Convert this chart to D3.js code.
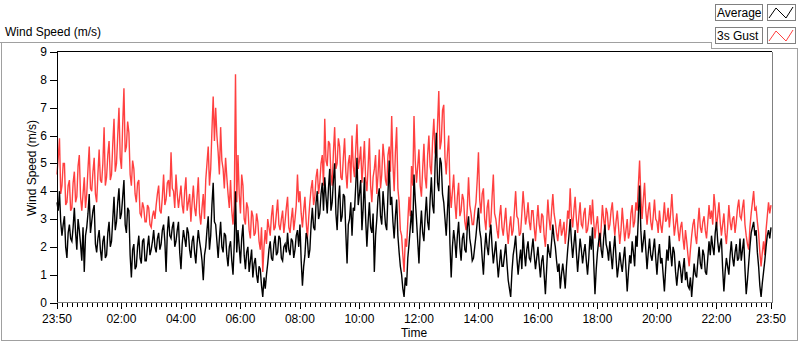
<!DOCTYPE html>
<html>
<head>
<meta charset="utf-8">
<style>
  body { margin: 0; background: #fff; }
  svg { display: block; }
  text { font-family: "Liberation Sans", Arial, sans-serif; fill: #000; }
</style>
</head>
<body>
<svg width="800" height="342"></svg>
<script src="https://d3js.org/d3.v7.min.js"></script>
<script>

// one sample every 2.5 minutes, starting 23:50 (one row = one hour)
var stepMin = 2.5;

var gust = [
  4.6, 5.2, 5.9, 3.9, 4.2, 5.0, 5.0, 3.5, 3.6, 4.2, 4.4, 3.3, 3.4, 4.3, 4.7, 3.6, 3.8, 4.9, 5.3, 3.8, 3.3, 3.9, 4.5, 3.4,
  3.9, 4.8, 5.6, 4.1, 4.0, 4.7, 5.2, 3.9, 3.6, 4.6, 5.5, 4.4, 4.3, 5.0, 6.3, 4.2, 4.5, 5.3, 5.8, 4.4, 4.6, 5.7, 6.6, 4.7,
  5.0, 6.0, 7.0, 5.2, 4.8, 6.4, 7.7, 5.4, 5.6, 6.5, 6.1, 4.6, 4.2, 5.1, 4.8, 3.9, 3.6, 4.3, 4.4, 3.2, 3.1, 3.6, 3.4, 2.9,
  2.9, 3.5, 3.4, 2.8, 2.7, 3.1, 3.3, 3.0, 3.5, 3.9, 4.2, 3.3, 3.2, 3.8, 4.6, 3.5, 3.7, 4.3, 4.4, 3.8, 5.4, 4.1, 4.0, 3.4,
  4.6, 3.9, 3.4, 3.8, 4.2, 3.5, 3.2, 4.0, 4.5, 3.3, 3.6, 3.9, 2.9, 3.6, 4.2, 3.4, 3.1, 3.8, 4.5, 3.2, 2.8, 3.4, 3.9, 3.0,
  4.4, 5.0, 5.6, 4.2, 4.8, 6.2, 7.4, 5.8, 7.0, 6.0, 5.4, 4.6, 6.3, 5.1, 4.8, 4.1, 5.2, 4.5, 3.9, 3.4, 4.4, 3.3, 2.8, 3.5,
  8.2, 3.6, 5.3, 3.9, 3.2, 4.6, 4.2, 3.0, 2.8, 3.6, 3.4, 2.6, 2.3, 3.3, 3.1, 2.4, 2.5, 3.2, 2.9, 2.2, 1.9, 2.7, 1.1, 2.0,
  2.6, 2.1, 3.0, 2.7, 2.4, 3.1, 3.5, 2.6, 2.7, 3.2, 3.7, 2.8, 2.6, 3.0, 3.3, 2.5, 2.9, 3.4, 3.8, 2.7, 2.5, 3.0, 3.4, 2.6,
  3.0, 3.5, 4.6, 3.6, 4.0, 3.2, 2.7, 3.3, 3.8, 2.9, 2.3, 3.0, 3.6, 4.1, 4.4, 3.5, 3.8, 4.5, 4.8, 3.9, 4.3, 5.0, 5.3, 4.2,
  6.6, 5.1, 4.9, 5.8, 5.7, 4.6, 4.2, 5.4, 6.3, 4.8, 5.0, 5.9, 5.6, 4.5, 4.4, 5.2, 5.9, 4.7, 4.1, 5.0, 5.3, 4.3, 6.0, 4.9,
  4.5, 5.5, 6.4, 4.8, 5.1, 5.6, 4.3, 5.0, 5.8, 4.4, 4.0, 4.9, 5.9, 4.2, 3.6, 4.5, 4.8, 5.3, 3.9, 4.6, 5.5, 4.1, 4.6, 5.7,
  5.2, 4.4, 4.2, 5.3, 5.6, 4.7, 6.7, 5.0, 4.0, 5.4, 6.3, 4.1, 3.6, 2.6, 2.4, 1.7, 1.1, 2.3, 2.0, 2.9, 3.8, 3.1, 4.9, 4.2,
  6.7, 5.1, 4.3, 4.9, 5.5, 4.2, 3.8, 4.8, 5.7, 4.5, 4.1, 5.3, 6.0, 4.9, 4.6, 5.8, 6.6, 5.4, 5.2, 6.4, 7.6, 5.5, 5.8, 6.9,
  7.1, 5.2, 4.6, 5.4, 6.0, 4.1, 3.4, 4.0, 4.6, 3.6, 3.0, 3.8, 4.3, 3.1, 3.3, 3.9, 3.7, 2.9, 2.6, 3.4, 4.5, 3.5, 3.2, 2.8,
  2.8, 3.3, 3.6, 4.4, 5.4, 3.7, 3.2, 3.9, 4.1, 3.0, 2.6, 3.4, 3.7, 2.7, 2.9, 3.8, 4.6, 3.2, 3.0, 2.6, 2.3, 3.1, 3.5, 2.7,
  2.4, 2.9, 3.4, 2.6, 2.1, 2.7, 3.1, 2.4, 2.6, 3.3, 4.0, 3.1, 3.0, 2.4, 2.5, 3.2, 4.0, 3.4, 2.8, 3.1, 3.6, 2.9, 2.6, 3.3,
  3.3, 2.7, 2.2, 2.9, 3.5, 2.8, 2.5, 3.2, 3.1, 2.4, 2.0, 2.8, 3.7, 3.0, 2.6, 3.3, 3.9, 3.2, 2.9, 2.5, 2.2, 2.7, 3.0, 2.4,
  2.6, 2.9, 2.1, 2.6, 3.3, 3.0, 4.1, 3.1, 2.7, 3.3, 3.8, 3.0, 2.5, 3.1, 3.6, 2.8, 2.7, 3.2, 3.4, 2.5, 2.6, 3.0, 3.5, 2.8,
  3.7, 2.9, 2.3, 2.8, 3.1, 2.5, 2.0, 2.7, 3.5, 3.0, 2.6, 3.4, 3.2, 2.6, 2.8, 3.3, 3.6, 2.9, 2.4, 2.9, 3.3, 2.7, 2.1, 2.6,
  3.4, 2.8, 2.2, 2.6, 3.0, 2.3, 2.5, 3.2, 3.5, 2.7, 2.9, 3.6, 3.3, 4.2, 5.1, 3.8, 3.0, 3.7, 4.3, 3.3, 2.8, 3.3, 3.6, 2.9,
  2.6, 3.1, 3.7, 3.0, 2.9, 2.5, 3.3, 2.8, 2.5, 3.0, 3.6, 2.9, 3.0, 3.4, 2.7, 3.2, 3.9, 3.1, 2.4, 2.8, 3.2, 2.6, 2.2, 2.7,
  2.9, 2.3, 1.9, 2.6, 2.2, 1.7, 1.3, 1.9, 2.4, 2.8, 3.0, 2.4, 2.1, 2.8, 3.4, 2.7, 2.5, 2.9, 3.1, 2.6, 2.3, 2.9, 3.5, 3.0,
  3.3, 2.8, 3.9, 3.4, 2.7, 3.1, 3.6, 2.9, 2.4, 2.8, 3.2, 2.5, 2.1, 2.7, 3.5, 2.9, 2.6, 3.0, 3.1, 2.5, 2.9, 3.4, 3.7, 3.1,
  3.0, 3.4, 3.7, 2.8, 2.4, 2.1, 1.9, 2.7, 3.2, 3.6, 4.0, 3.3, 3.4, 2.9, 2.5, 1.8, 1.3, 1.8, 2.2, 1.7, 2.6, 3.1, 3.6, 3.2,
  3.5
];

var average = [
  3.6, 3.3, 4.0, 2.9, 2.4, 2.8, 3.1, 2.0, 1.6, 2.5, 2.8, 2.3, 2.2, 2.7, 3.4, 2.5, 1.9, 3.0, 2.6, 2.1, 1.5, 2.7, 1.1, 2.4,
  2.7, 3.2, 3.9, 2.5, 2.9, 3.3, 3.5, 2.1, 1.8, 2.3, 2.6, 1.9, 1.5, 2.2, 2.4, 1.6, 1.7, 2.5, 2.9, 2.0, 2.2, 3.0, 3.8, 2.6,
  2.9, 3.6, 4.1, 3.0, 3.2, 3.8, 4.4, 2.8, 2.5, 3.4, 3.3, 1.7, 0.9, 1.9, 2.1, 1.2, 1.3, 2.0, 2.4, 1.6, 1.4, 2.2, 2.3, 1.5,
  1.5, 2.0, 2.4, 1.7, 1.9, 2.2, 2.6, 2.0, 1.8, 2.3, 2.5, 1.9, 2.1, 2.6, 2.8, 2.2, 1.1, 2.5, 3.1, 2.4, 2.3, 2.7, 2.9, 2.0,
  2.2, 2.6, 2.9, 1.8, 1.2, 2.1, 2.6, 2.3, 2.0, 2.7, 2.5, 1.9, 1.6, 2.2, 2.4, 1.8, 1.4, 2.1, 2.6, 2.2, 1.9, 1.5, 0.8, 1.7,
  2.0, 2.6, 3.1, 1.9, 2.4, 3.5, 4.3, 2.9, 2.8, 2.2, 1.6, 2.3, 2.9, 2.0, 1.8, 2.5, 2.4, 1.7, 1.3, 2.0, 2.2, 1.5, 1.0, 2.1,
  4.0, 1.8, 2.6, 2.0, 1.4, 2.3, 2.8, 1.7, 1.2, 1.8, 2.0, 1.1, 1.5, 1.9, 0.9, 1.4, 1.6, 1.0, 0.7, 1.3, 1.2, 0.6, 0.2, 0.9,
  0.5, 1.0, 1.4, 1.9, 2.2, 1.6, 1.5, 2.1, 2.4, 1.7, 1.8, 2.4, 2.3, 1.6, 1.5, 2.0, 2.1, 1.8, 2.5, 1.9, 1.7, 2.3, 2.2, 1.6,
  1.9, 2.4, 2.6, 2.0, 2.8, 1.5, 0.6, 1.3, 1.7, 2.5, 2.3, 1.6, 1.9, 2.8, 3.4, 2.7, 2.6, 3.6, 4.0, 3.0, 3.2, 3.9, 4.3, 3.3,
  4.5, 3.8, 3.2, 4.1, 4.8, 3.3, 3.6, 4.4, 5.0, 3.2, 2.6, 3.7, 4.2, 2.9, 3.1, 3.9, 3.8, 2.5, 1.4, 2.8, 3.0, 3.6, 2.4, 3.4,
  3.3, 4.2, 5.2, 3.5, 3.9, 4.4, 2.6, 3.4, 4.5, 3.0, 2.0, 2.9, 3.6, 2.7, 2.5, 3.2, 1.1, 2.4, 3.0, 3.8, 4.1, 3.1, 2.8, 4.0,
  3.4, 2.8, 2.6, 3.9, 5.1, 3.5, 3.8, 2.9, 2.3, 3.1, 3.7, 2.4, 1.8, 1.3, 1.0, 0.5, 0.2, 0.9, 0.6, 1.6, 2.1, 2.7, 3.3, 2.5,
  4.6, 3.7, 3.0, 2.2, 1.4, 2.6, 3.3, 2.5, 2.2, 3.1, 3.8, 2.9, 2.6, 3.7, 4.5, 3.5, 3.2, 4.9, 6.1, 4.3, 4.0, 5.2, 5.0, 3.9,
  3.6, 3.0, 2.4, 3.3, 4.2, 2.1, 0.9, 2.0, 2.6, 2.2, 1.6, 2.4, 2.9, 2.0, 1.5, 2.3, 2.5, 1.9, 1.8, 2.7, 3.1, 2.3, 2.0, 1.5,
  1.6, 2.0, 2.4, 2.9, 3.4, 2.6, 2.3, 1.6, 1.0, 1.9, 2.5, 2.0, 1.7, 2.4, 2.8, 2.0, 1.4, 1.8, 2.2, 1.5, 0.9, 1.4, 1.9, 1.3,
  1.3, 1.7, 2.1, 1.4, 0.8, 0.5, 0.2, 1.1, 1.7, 2.0, 2.4, 1.6, 1.0, 1.5, 1.9, 1.2, 2.5, 1.8, 1.3, 1.9, 2.2, 1.6, 1.5, 1.9,
  2.3, 1.7, 1.2, 1.6, 2.0, 1.4, 0.9, 1.5, 1.7, 1.0, 0.3, 1.2, 2.1, 1.8, 1.6, 2.2, 2.8, 2.3, 2.0, 1.5, 1.1, 1.4, 0.5, 1.0,
  1.4, 1.0, 0.5, 1.3, 1.9, 2.4, 3.0, 2.2, 1.6, 2.1, 2.6, 1.8, 1.1, 1.7, 2.3, 1.9, 1.4, 1.8, 2.1, 1.5, 1.0, 1.6, 2.4, 1.9,
  2.7, 1.4, 0.3, 1.2, 1.8, 2.2, 2.5, 1.9, 1.6, 2.3, 2.8, 2.1, 1.9, 1.5, 2.2, 1.7, 1.2, 1.9, 2.4, 1.6, 0.9, 1.3, 1.8, 1.4,
  1.1, 1.6, 2.0, 1.2, 0.4, 1.1, 1.7, 1.4, 2.2, 1.8, 1.3, 2.4, 2.0, 3.1, 4.2, 2.6, 1.8, 2.2, 2.6, 1.9, 1.2, 1.8, 2.3, 1.7,
  1.5, 1.9, 2.3, 1.6, 1.0, 1.7, 2.1, 1.4, 1.6, 1.0, 0.4, 1.2, 1.9, 1.5, 2.4, 1.8, 1.3, 2.0, 1.8, 1.1, 0.6, 1.1, 1.5, 1.2,
  0.7, 1.2, 1.6, 0.8, 1.1, 0.6, 0.5, 0.9, 0.2, 0.8, 1.4, 1.0, 0.9, 1.5, 2.0, 1.4, 1.2, 1.9, 1.7, 1.1, 1.0, 1.6, 2.2, 1.7,
  2.4, 2.0, 1.7, 2.5, 2.9, 2.2, 1.8, 2.1, 2.3, 1.2, 0.4, 1.1, 1.6, 1.3, 1.0, 1.7, 2.2, 1.6, 1.3, 1.8, 2.1, 1.5, 1.6, 2.3,
  1.5, 1.9, 2.3, 1.2, 0.3, 0.8, 1.4, 2.0, 2.5, 2.7, 2.9, 2.4, 2.6, 1.8, 1.3, 0.6, 0.2, 0.7, 1.1, 1.5, 2.0, 2.4, 2.6, 2.3,
  2.7
];

var yTicks = [0, 1, 2, 3, 4, 5, 6, 7, 8, 9];
var xTickLabels = ["23:50", "02:00", "04:00", "06:00", "08:00", "10:00", "12:00",
                   "14:00", "16:00", "18:00", "20:00", "22:00", "23:50"];
var legendNames = ["Average", "3s Gust"];
var seriesColors = ["#000000", "#ff4040"];

var svg = d3.select("svg");

// minutes since 23:50
function toMin(label, i) {
  var p = label.split(":"), m = +p[0] * 60 + +p[1] - (23 * 60 + 50);
  if (m < 0 || (i > 0 && m === 0)) m += 1440;
  return m;
}

var x = d3.scaleLinear().domain([0, 1440]).range([57, 771]);
var y = d3.scaleLinear().domain([0, 9]).range([302.5, 52]);

// outer frame
svg.append("path")
    .attr("d", "M0,42.5H711.5V48.5H797.5V340.5H1.5V42.5")
    .attr("fill", "none")
    .attr("stroke", "#a0a0a0")
    .attr("shape-rendering", "crispEdges");

svg.append("text")
    .attr("x", 5).attr("y", 36)
    .style("font-size", "12px")
    .text("Wind Speed (m/s)");

// plot area
svg.append("rect")
    .attr("x", 57).attr("y", 52)
    .attr("width", 715).attr("height", 250)
    .attr("fill", "#fff");

var line = d3.line()
    .x(function(d, i) { return x(i * stepMin); })
    .y(function(d) { return y(d); });

svg.append("g")
    .selectAll("path")
    .data([gust, average])
    .enter().append("path")
    .attr("d", line)
    .attr("fill", "none")
    .attr("stroke", function(d, i) { return i === 0 ? seriesColors[1] : seriesColors[0]; })
    .attr("stroke-width", 1.4)
    .attr("stroke-linejoin", "miter");

// plot border: dark top/left, grey bottom/right
svg.append("path")
    .attr("d", "M57.5,302V51.5H772")
    .attr("fill", "none").attr("stroke", "#000")
    .attr("shape-rendering", "crispEdges");
svg.append("path")
    .attr("d", "M57,302.5H772.5V52")
    .attr("fill", "none").attr("stroke", "#808080")
    .attr("shape-rendering", "crispEdges");

// y axis
var yAxis = svg.append("g");
yAxis.selectAll("line")
    .data(yTicks)
    .enter().append("line")
    .attr("x1", 50).attr("x2", 57)
    .attr("y1", function(d) { return Math.round(y(d)) + 0.5; })
    .attr("y2", function(d) { return Math.round(y(d)) + 0.5; })
    .attr("stroke", "#000")
    .attr("shape-rendering", "crispEdges");
yAxis.selectAll("text")
    .data(yTicks)
    .enter().append("text")
    .attr("x", 47)
    .attr("y", function(d) { return y(d) + 4; })
    .attr("text-anchor", "end")
    .style("font-size", "12px")
    .text(function(d) { return d; });

svg.append("text")
    .attr("transform", "translate(36,168) rotate(-90)")
    .attr("text-anchor", "middle")
    .style("font-size", "12px")
    .text("Wind Speed (m/s)");

// x axis
var majorMins = xTickLabels.map(toMin);
var minorMins = d3.range(0, 1441, 10);
var xAxis = svg.append("g");
xAxis.selectAll("line.minor")
    .data(minorMins)
    .enter().append("line")
    .attr("class", "minor")
    .attr("x1", function(d) { return Math.round(x(d)) + 0.5; })
    .attr("x2", function(d) { return Math.round(x(d)) + 0.5; })
    .attr("y1", 303).attr("y2", 307)
    .attr("stroke", "#000")
    .attr("shape-rendering", "crispEdges");
xAxis.selectAll("line.major")
    .data(majorMins)
    .enter().append("line")
    .attr("class", "major")
    .attr("x1", function(d) { return Math.round(x(d)) + 0.5; })
    .attr("x2", function(d) { return Math.round(x(d)) + 0.5; })
    .attr("y1", 303).attr("y2", 309)
    .attr("stroke", "#000")
    .attr("shape-rendering", "crispEdges");
xAxis.selectAll("text")
    .data(xTickLabels)
    .enter().append("text")
    .attr("x", function(d, i) { return x(majorMins[i]); })
    .attr("y", 323)
    .attr("text-anchor", "middle")
    .style("font-size", "12px")
    .text(function(d) { return d; });

svg.append("text")
    .attr("x", 414).attr("y", 337)
    .attr("text-anchor", "middle")
    .style("font-size", "12px")
    .text("Time");

// legend
var legend = svg.append("g")
    .selectAll("g")
    .data(legendNames)
    .enter().append("g")
    .attr("transform", function(d, i) { return "translate(0," + (i * 23) + ")"; });
legend.append("rect")
    .attr("x", 715.5).attr("y", 4.5)
    .attr("width", 47).attr("height", 16)
    .attr("fill", "#fff").attr("stroke", "#808080")
    .attr("shape-rendering", "crispEdges");
legend.append("text")
    .attr("x", 717).attr("y", 17)
    .style("font-size", "12px")
    .text(function(d) { return d; });
legend.append("rect")
    .attr("x", 767.5).attr("y", 4.5)
    .attr("width", 28).attr("height", 16)
    .attr("fill", "#fff").attr("stroke", "#808080")
    .attr("shape-rendering", "crispEdges");
legend.append("path")
    .attr("d", "M769,18L776,8L786,18L793,7")
    .attr("fill", "none")
    .attr("stroke", function(d, i) { return seriesColors[i]; });

</script>
</body>
</html>
